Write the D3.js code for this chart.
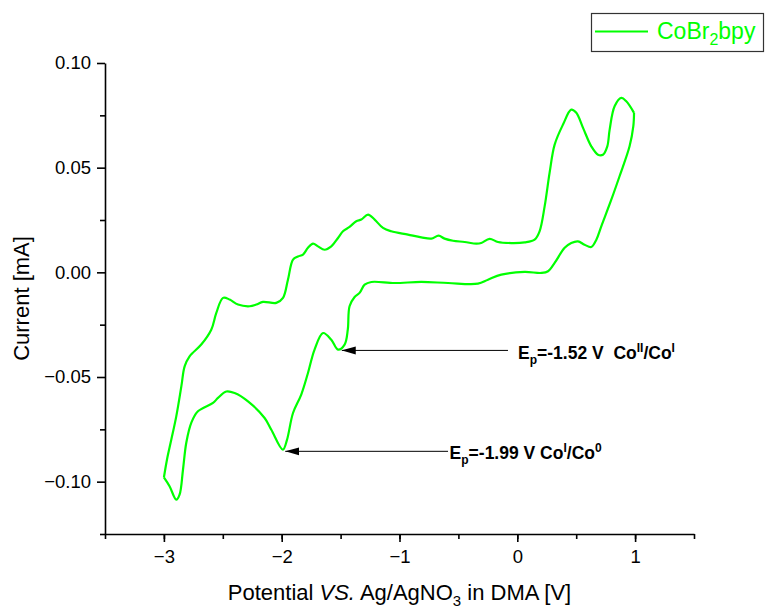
<!DOCTYPE html>
<html>

<head>
  <meta charset="utf-8" />
  <title>CoBr2bpy CV</title>
  <style>
    body {
      margin: 0;
      background: #fff;
    }

    svg text {
      font-family: "Liberation Sans", Arial, sans-serif;
    }

    .axis path,
    .axis line {
      stroke: #000;
      stroke-width: 1.6px;
    }

    .axis text {
      font-size: 18.5px;
      fill: #000;
    }

    .cv {
      fill: none;
      stroke: #00ff00;
      stroke-width: 2.2px;
    }

    .note {
      font-size: 17.5px;
      font-weight: bold;
    }
  </style>
  <script src="https://cdnjs.cloudflare.com/ajax/libs/d3/7.8.5/d3.min.js"></script>
</head>

<body>
  <div id="chartArea"></div>
  <script>
    // reverse sweep: +1 V -> -3 V (potential V, current mA)
    var revE = [0.991, 0.985, 0.953, 0.868, 0.798, 0.713, 0.671, 0.628, 0.571, 0.515, 0.458, 0.402, 0.317, 0.261,
      0.204, 0.062, -0.136, -0.249, -0.334, -0.588, -0.815, -1.042, -1.239, -1.296, -1.339, -1.381, -1.424, -1.439,
      -1.466, -1.522, -1.579, -1.649, -1.721, -1.777, -1.834, -1.904, -1.955, -1.99, -2.088, -2.145, -2.286, -2.400,
      -2.470, -2.541, -2.583, -2.711, -2.767, -2.810, -2.838, -2.867, -2.895, -2.952, -3.0];
    var revI = [0.0762, 0.0698, 0.0602, 0.0459, 0.0347, 0.0220, 0.0156, 0.0121, 0.0132, 0.0148, 0.0140, 0.0117,
      0.0045, 0.0005, -0.0003, 0.0002, -0.0011, -0.0035, -0.0054, -0.0051, -0.0046, -0.0051, -0.0046, -0.0059,
      -0.0098, -0.0118, -0.0162, -0.0274, -0.0345, -0.0369, -0.0322, -0.0290, -0.0369, -0.0481, -0.0584, -0.0672,
      -0.0800, -0.0847, -0.0752, -0.0696, -0.0616, -0.0576, -0.0569, -0.0600, -0.0624, -0.0664, -0.0718, -0.0814,
      -0.0943, -0.1062, -0.1086, -0.1022, -0.0980];

    // forward sweep: -3 V -> +1 V
    var fwdE = [-3.0, -2.974, -2.937, -2.895, -2.852, -2.824, -2.782, -2.683, -2.598, -2.555, -2.498, -2.442, -2.371,
      -2.272, -2.216, -2.159, -2.046, -1.989, -1.947, -1.904, -1.862, -1.819, -1.777, -1.734, -1.692, -1.636, -1.579,
      -1.522, -1.480, -1.424, -1.367, -1.324, -1.267, -1.211, -1.140, -1.070, -0.928, -0.815, -0.730, -0.668, -0.617,
      -0.546, -0.447, -0.348, -0.306, -0.235, -0.164, -0.051, 0.062, 0.147, 0.189, 0.232, 0.274, 0.317, 0.388, 0.458,
      0.501, 0.558, 0.628, 0.685, 0.727, 0.764, 0.784, 0.826, 0.883, 0.925, 0.991];
    var fwdI = [-0.0980, -0.0895, -0.0799, -0.0688, -0.0545, -0.0449, -0.0401, -0.0345, -0.0274, -0.0194, -0.0122,
      -0.0130, -0.0154, -0.0162, -0.0154, -0.0141, -0.0146, -0.0122, -0.0035, 0.0061, 0.0076, 0.0085, 0.0117, 0.0137,
      0.0124, 0.0108, 0.0124, 0.0164, 0.0196, 0.0217, 0.0244, 0.0252, 0.0276, 0.0252, 0.0212, 0.0196, 0.0180, 0.0167,
      0.0161, 0.0175, 0.0161, 0.0151, 0.0145, 0.0137, 0.0140, 0.0160, 0.0145, 0.0140, 0.0143, 0.0156, 0.0196, 0.0315,
      0.0475, 0.0610, 0.0706, 0.0777, 0.0762, 0.0690, 0.0602, 0.0562, 0.0562, 0.0602, 0.0682, 0.0793, 0.0833, 0.0817,
      0.0762];

    var xTicks = [-3, -2, -1, 0, 1];
    var yTicks = [-0.10, -0.05, 0.00, 0.05, 0.10];

    // peak annotations: arrow tip (E, I), arrow tail E, text anchor (E, I)
    var peakLabels = [
      { tip: [-1.49, -0.0373], tail: -0.079, at: [0.006, -0.0412], ep: '-1.52 V\u00a0\u00a0Co', sup1: 'II', rest: '/Co', sup2: 'I' },
      { tip: [-1.97, -0.0855], tail: -0.588, at: [-0.575, -0.0890], ep: '-1.99 V Co', sup1: 'I', rest: '/Co', sup2: '0' }
    ];

    var W = 766, H = 609;
    var margin = { top: 63, right: 72, bottom: 75, left: 105 };
    var w = W - margin.left - margin.right,
      h = H - margin.top - margin.bottom;

    var xScale = d3.scaleLinear().domain([-3.5, 1.5]).range([0, w]);
    var yScale = d3.scaleLinear().domain([-0.125, 0.10]).range([h, 0]);

    var svg = d3.select('#chartArea').append('svg')
      .attr('width', W)
      .attr('height', H);

    svg.append('defs').append('marker')
      .attr('id', 'head')
      .attr('viewBox', '0 0 14 10')
      .attr('refX', 14).attr('refY', 5)
      .attr('markerWidth', 14).attr('markerHeight', 10)
      .attr('markerUnits', 'userSpaceOnUse')
      .attr('orient', 'auto')
      .append('path').attr('d', 'M0,1 L14,5 L0,9 Z').attr('fill', '#000');

    var g = svg.append('g')
      .attr('transform', 'translate(' + margin.left + ',' + margin.top + ')');

    // minor ticks
    g.append('g').attr('class', 'axis')
      .attr('transform', 'translate(0,' + h + ')')
      .call(d3.axisBottom(xScale).tickValues(d3.range(-3.5, 1.51, 0.5)).tickSize(5).tickFormat(''))
      .select('.domain').remove();
    g.append('g').attr('class', 'axis')
      .call(d3.axisLeft(yScale).tickValues([-0.125, -0.075, -0.025, 0.025, 0.075]).tickSize(5).tickFormat(''))
      .select('.domain').remove();

    g.append('g').attr('class', 'axis')
      .attr('transform', 'translate(0,' + h + ')')
      .call(d3.axisBottom(xScale).tickValues(xTicks).tickSize(8).tickSizeOuter(0).tickPadding(8).tickFormat(d3.format('d')));

    g.append('g').attr('class', 'axis')
      .call(d3.axisLeft(yScale).tickValues(yTicks).tickSize(8).tickSizeOuter(0).tickPadding(6).tickFormat(d3.format('.2f')));

    // the curve
    var line = d3.line()
      .x(d => xScale(d[0]))
      .y(d => yScale(d[1]))
      .curve(d3.curveCatmullRom.alpha(0.5));

    g.append('path').attr('class', 'cv').datum(d3.zip(revE, revI)).attr('d', line);
    g.append('path').attr('class', 'cv').datum(d3.zip(fwdE, fwdI)).attr('d', line);

    // peak annotations
    peakLabels.forEach(function (p) {
      g.append('line')
        .attr('x1', xScale(p.tail)).attr('y1', yScale(p.tip[1]))
        .attr('x2', xScale(p.tip[0])).attr('y2', yScale(p.tip[1]))
        .attr('stroke', '#000').attr('stroke-width', 1)
        .attr('marker-end', 'url(#head)');
      var t = g.append('text').attr('class', 'note')
        .attr('x', xScale(p.at[0])).attr('y', yScale(p.at[1]));
      t.append('tspan').text('E');
      t.append('tspan').attr('dy', 5).attr('font-size', 12).text('p');
      t.append('tspan').attr('dy', -5).text('=' + p.ep);
      t.append('tspan').attr('dy', -7).attr('font-size', 12).text(p.sup1);
      t.append('tspan').attr('dy', 7).text(p.rest);
      t.append('tspan').attr('dy', -7).attr('font-size', 12).text(p.sup2);
    });

    // axis titles
    var xt = svg.append('text')
      .attr('x', margin.left + w / 2).attr('y', 600)
      .attr('text-anchor', 'middle').attr('font-size', 22);
    xt.append('tspan').text('Potential ');
    xt.append('tspan').attr('font-style', 'italic').text('VS.');
    xt.append('tspan').text(' Ag/AgNO');
    xt.append('tspan').attr('dy', 6).attr('font-size', 15).text('3');
    xt.append('tspan').attr('dy', -6).text(' in DMA [V]');

    svg.append('text')
      .attr('transform', 'translate(29,' + (margin.top + yScale(-0.0125)) + ') rotate(-90)')
      .attr('text-anchor', 'middle').attr('font-size', 22)
      .text('Current [mA]');

    // legend
    var leg = svg.append('g');
    leg.append('rect')
      .attr('x', 591.5).attr('y', 13.5).attr('width', 172).attr('height', 38)
      .attr('fill', '#fff').attr('stroke', '#333').attr('stroke-width', 1.2);
    leg.append('line')
      .attr('x1', 595).attr('x2', 648).attr('y1', 31.5).attr('y2', 31.5)
      .attr('stroke', '#00ff00').attr('stroke-width', 2.2);
    var lt = leg.append('text').attr('x', 657).attr('y', 38.5)
      .attr('font-size', 23).attr('fill', '#00ff00');
    lt.append('tspan').text('CoBr');
    lt.append('tspan').attr('dy', 6).attr('font-size', 16).text('2');
    lt.append('tspan').attr('dy', -6).text('bpy');
  </script>
</body>

</html>
